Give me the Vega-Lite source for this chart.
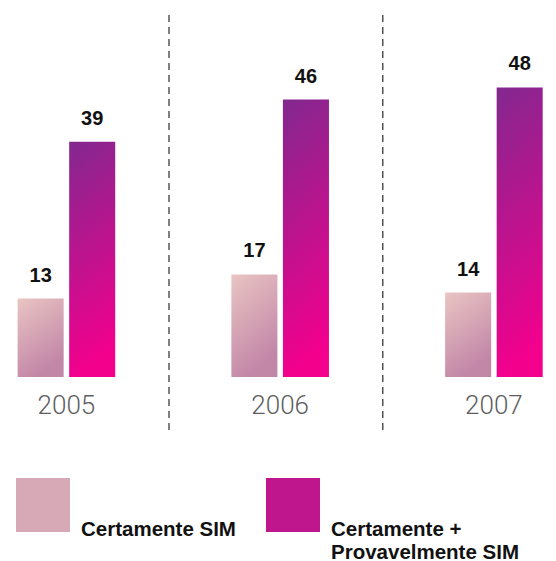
{
  "$schema": "https://vega.github.io/schema/vega-lite/v6.json",
  "width": 556,
  "height": 377,
  "autosize": {"type": "none"},
  "padding": {"left": 0, "right": 0, "top": 0, "bottom": 184},
  "background": "white",
  "config": {"view": {"stroke": null}, "axisY": {"disable": true}},
  "data": {
    "values": [
      {"year": "2005", "series": "Certamente SIM", "value": 13},
      {"year": "2005", "series": "Certamente + Provavelmente SIM", "value": 39},
      {"year": "2006", "series": "Certamente SIM", "value": 17},
      {"year": "2006", "series": "Certamente + Provavelmente SIM", "value": 46},
      {"year": "2007", "series": "Certamente SIM", "value": 14},
      {"year": "2007", "series": "Certamente + Provavelmente SIM", "value": 48}
    ]
  },
  "encoding": {
    "x": {
      "field": "year",
      "type": "nominal",
      "scale": {"paddingInner": 0.5, "paddingOuter": 0.0506, "align": 0.6},
      "axis": {"title": null, "domain": false, "ticks": false, "labelAngle": 0, "labelFontSize": 26, "labelFont": "Roboto", "labelFontWeight": 300, "labelColor": "#5e5e5e", "labelPadding": 15}
    }
  },
  "layer": [
    {
      "transform": [{"filter": "datum.series == 'Certamente SIM' && datum.year != '2007'"}],
      "mark": {"type": "rule", "strokeDash": [7, 5], "color": "#555555", "strokeWidth": 1.5},
      "encoding": {
        "x": {"field": "year", "type": "nominal", "bandPosition": 1.46},
        "y": {"datum": 60, "type": "quantitative"},
        "y2": {"datum": -8.8}
      }
    },
    {
      "mark": {"type": "bar"},
      "encoding": {
        "xOffset": {
          "field": "series",
          "type": "nominal",
          "sort": ["Certamente SIM", "Certamente + Provavelmente SIM"],
          "scale": {"paddingInner": 0.107, "paddingOuter": 0.09}
        },
        "y": {"field": "value", "type": "quantitative", "scale": {"domain": [0, 62.5], "nice": false}},
        "color": {
          "condition": {
            "test": "datum.series == 'Certamente SIM'",
            "value": {"gradient": "linear", "x1": 0, "y1": 0, "x2": 0.4, "y2": 1, "stops": [{"offset": 0, "color": "#e9c5c3"}, {"offset": 1, "color": "#c286a7"}]}
          },
          "value": {"gradient": "linear", "x1": 0, "y1": 0, "x2": 0.15, "y2": 1, "stops": [{"offset": 0, "color": "#82288f"}, {"offset": 1, "color": "#f3008d"}]}
        }
      }
    },
    {
      "mark": {"type": "square", "size": 0, "filled": true},
      "encoding": {
        "color": {
          "field": "series",
          "type": "nominal",
          "scale": {"domain": ["Certamente SIM", "Certamente + Provavelmente SIM"], "range": ["#d7a8b5", "#bf168e"]},
          "legend": {
            "title": null,
            "orient": "none",
            "legendX": 16,
            "legendY": 478,
            "direction": "horizontal",
            "symbolType": "square",
            "symbolSize": 2916,
            "symbolStrokeWidth": 0,
            "symbolOpacity": 1,
            "labelFont": "Liberation Sans",
            "labelFontSize": 20.5,
            "labelFontWeight": "bold",
            "labelColor": "#111111",
            "labelLimit": 300,
            "labelOffset": 11,
            "columnPadding": 30,
            "labelBaseline": "alphabetic",
            "labelExpr": "datum.label == 'Certamente + Provavelmente SIM' ? ['Certamente +', 'Provavelmente SIM'] : [datum.label, ' ']",
            "encode": {
              "labels": {"update": {"dy": {"value": 31}}}
            }
          }
        }
      }
    },
    {
      "mark": {"type": "text", "dy": -17, "baseline": "alphabetic", "fontSize": 20, "fontWeight": "bold", "font": "Liberation Sans", "color": "#111111"},
      "encoding": {
        "xOffset": {"field": "series", "type": "nominal", "sort": ["Certamente SIM", "Certamente + Provavelmente SIM"]},
        "y": {"field": "value", "type": "quantitative"},
        "text": {"field": "value", "type": "quantitative"}
      }
    }
  ]
}
